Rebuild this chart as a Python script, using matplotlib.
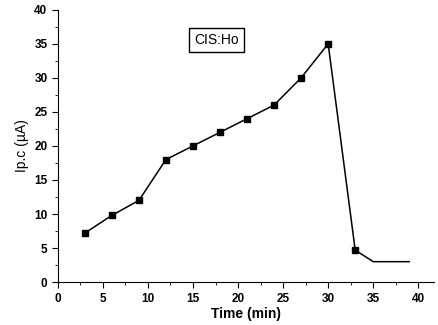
import matplotlib
matplotlib.use("Agg")
import matplotlib.pyplot as plt
from matplotlib.ticker import MultipleLocator

plt.rcParams['font.family'] = ['Liberation Sans', 'DejaVu Sans']

# data
time_min = [3, 6, 9, 12, 15, 18, 21, 24, 27, 30, 33, 35, 39]
ipc = [7.2, 9.8, 12, 18, 20, 22, 24, 26, 30, 35, 4.7, 3.0, 3.0]
n_marked = 11
label = "CIS:Ho"

fig = plt.figure(figsize=(4.38, 3.25), dpi=100)
ax = fig.add_axes([0.132, 0.132, 0.86, 0.838])

ax.plot(time_min, ipc, color='black', lw=1.1, marker='s', ms=4,
        markevery=list(range(n_marked)))

ax.set_xlim(0, 41.8)
ax.set_ylim(0, 40)
ax.xaxis.set_major_locator(MultipleLocator(5))
ax.xaxis.set_minor_locator(MultipleLocator(2.5))
ax.yaxis.set_major_locator(MultipleLocator(5))
ax.yaxis.set_minor_locator(MultipleLocator(2.5))
ax.spines['top'].set_visible(False)
ax.spines['right'].set_visible(False)
ax.tick_params(which='major', direction='out', length=4, labelsize=8.5)
ax.tick_params(which='minor', direction='out', length=2)
for t in ax.get_xticklabels() + ax.get_yticklabels():
    t.set_fontweight('bold')

ax.set_xlabel("Time (min)", fontsize=10, fontweight='bold', labelpad=2)
ax.set_ylabel("Ip.c (\u00b5A)", fontsize=10, labelpad=4)

ax.text(17.6, 35.6, label, fontsize=10, ha='center', va='center',
        bbox=dict(boxstyle='square,pad=0.35', fc='white', ec='black', lw=1))

fig.savefig("out.png", dpi=100)
